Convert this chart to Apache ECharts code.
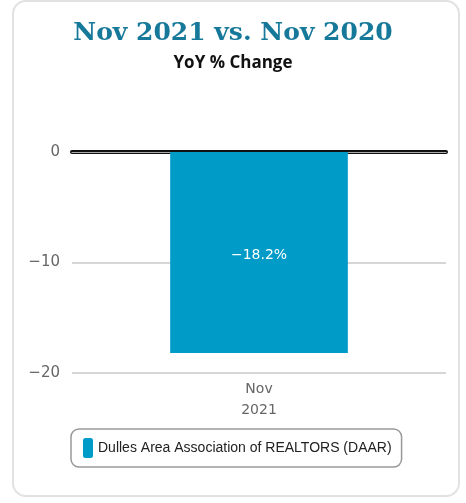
<!DOCTYPE html>
<html>
<head>
<meta charset="utf-8">
<script src="https://cdn.jsdelivr.net/npm/echarts@6/dist/echarts.min.js"></script>
<style>
  html, body { margin: 0; padding: 0; background: #fff; }
  #wrap { position: relative; width: 466px; height: 503px; overflow: hidden; }
  #card { position: absolute; left: 12px; top: 0; width: 448px; height: 497px;
          border: 2px solid #e2e2e2; border-radius: 14px; box-sizing: border-box; }
  #chart { position: absolute; left: 0; top: 0; width: 466px; height: 503px; }
</style>
</head>
<body>
<div id="wrap">
  <div id="card"></div>
  <div id="chart"></div>
</div>
<script>
// data
const categories = ['Nov\n2021'];
const seriesName = 'Dulles Area Association of REALTORS (DAAR)';
const yoyValues = [-18.2];
const yTicks = [-20, -10, 0];

const minus = (s) => String(s).replace('-', '\u2212');

let myChart = echarts.init(document.getElementById('chart'));
let option = {
  animation: false,
  title: [{
    text: 'Nov 2021 vs. Nov 2020',
    left: 'center',
    top: 16,
    textStyle: {fontFamily: 'DejaVu Serif', fontWeight: 'bold', fontSize: 25, color: '#16799a'}
  }, {
    text: 'YoY % Change',
    left: 'center',
    top: 50,
    textStyle: {fontFamily: 'Open Sans', fontWeight: 'bold', fontSize: 17, color: '#111'}
  }],
  grid: {left: 72, right: 20, top: 152, bottom: 130},
  legend: {
    left: 71,
    top: 429,
    icon: 'roundRect',
    itemWidth: 10,
    itemHeight: 20,
    itemGap: 8,
    padding: [9, 10, 9, 12],
    borderColor: '#999',
    borderWidth: 1.5,
    borderRadius: 8,
    textStyle: {fontFamily: 'Liberation Sans', fontSize: 14, color: '#222'},
    data: [seriesName]
  },
  xAxis: [{
    type: 'category',
    data: categories,
    axisLine: {show: true, lineStyle: {color: '#c5d5e4', width: 2}},
    axisTick: {show: false},
    axisLabel: {fontFamily: 'DejaVu Sans', fontSize: 14, color: '#666', lineHeight: 21, margin: 6}
  }, {
    type: 'category',
    position: 'top',
    data: categories,
    axisLine: {show: true, lineStyle: {color: '#111', width: 4}},
    axisTick: {show: false},
    axisLabel: {show: false}
  }, {
    type: 'category',
    position: 'top',
    data: categories,
    axisLine: {show: true, lineStyle: {color: '#aaa', width: 1}},
    axisTick: {show: false},
    axisLabel: {show: false}
  }],
  yAxis: {
    type: 'value',
    min: yTicks[0],
    max: yTicks[yTicks.length - 1],
    interval: 10,
    axisLine: {show: false},
    axisTick: {show: false},
    axisLabel: {
      fontFamily: 'DejaVu Sans', fontSize: 15, color: '#666', margin: 12,
      padding: [6, 0, 0, 0],
      formatter: (v) => minus(v)
    },
    splitLine: {lineStyle: {color: '#c8c8c8', width: 1.5}}
  },
  series: [{
    name: seriesName,
    type: 'bar',
    data: yoyValues,
    barWidth: '47.5%',
    itemStyle: {color: '#009bc7'},
    label: {
      show: true,
      position: 'inside',
      offset: [0, 3],
      fontFamily: 'DejaVu Sans',
      fontSize: 14,
      color: '#fff',
      formatter: (p) => minus(p.value.toFixed(1)) + '%'
    }
  }]
};
myChart.setOption(option);
</script>
</body>
</html>
